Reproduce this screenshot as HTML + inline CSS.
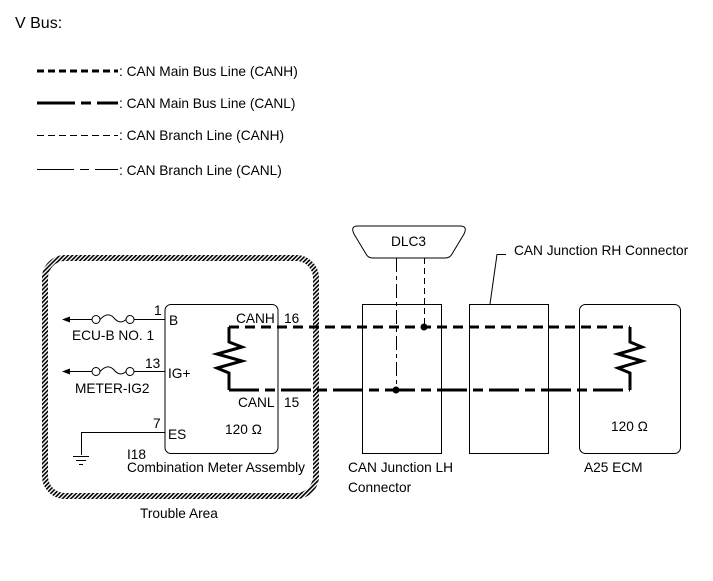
<!DOCTYPE html>
<html><head><meta charset="utf-8"><style>
html,body{margin:0;padding:0;background:#fff;}
svg{display:block;}
text{font-family:"Liberation Sans",Arial,sans-serif;font-size:13.7px;fill:#000;}
</style></head><body>
<svg width="713" height="581" viewBox="0 0 713 581" xmlns="http://www.w3.org/2000/svg">
<defs>
<pattern id="h" patternUnits="userSpaceOnUse" width="3" height="3" patternTransform="rotate(45)">
<rect width="3" height="3" fill="#fff"/><rect width="1.6" height="3" fill="#000"/>
</pattern>
</defs>
<text x="15" y="28" style="font-size:16px">V Bus:</text>
<!-- legend -->
<g stroke="#000" fill="none">
<line x1="37" y1="71" x2="118" y2="71" stroke-width="3" stroke-dasharray="7,4"/>
<g stroke-width="3">
<line x1="37" y1="103" x2="75" y2="103"/><line x1="81" y1="103" x2="91" y2="103"/><line x1="97" y1="103" x2="118" y2="103"/>
</g>
<line x1="37" y1="135.5" x2="118" y2="135.5" stroke-width="1" stroke-dasharray="7,4"/>
<g stroke-width="1">
<line x1="37" y1="169.5" x2="74" y2="169.5"/><line x1="80" y1="169.5" x2="89" y2="169.5"/><line x1="95" y1="169.5" x2="118" y2="169.5"/>
</g>
</g>
<text x="119" y="76">: CAN Main Bus Line (CANH)</text>
<text x="119" y="108">: CAN Main Bus Line (CANL)</text>
<text x="119" y="140">: CAN Branch Line (CANH)</text>
<text x="119" y="175">: CAN Branch Line (CANL)</text>

<!-- trouble area -->
<rect x="45" y="258" width="271" height="238" rx="20" fill="none" stroke="url(#h)" stroke-width="6"/>
<text x="140" y="518">Trouble Area</text>

<!-- combination meter -->
<rect x="165" y="304.5" width="113" height="149" rx="6" fill="none" stroke="#000" stroke-width="1"/>
<g stroke="#000" fill="none" stroke-width="1">
<line x1="68" y1="319.5" x2="92" y2="319.5"/><circle cx="96" cy="319.5" r="4"/>
<path d="M100 319.5 Q108 311 114 318 Q120 325 126 319.5"/>
<circle cx="130" cy="319.5" r="4"/><line x1="134" y1="319.5" x2="165" y2="319.5"/>
<line x1="68" y1="371.5" x2="92" y2="371.5"/><circle cx="96" cy="371.5" r="4"/>
<path d="M100 371.5 Q108 363 114 370 Q120 377 126 371.5"/>
<circle cx="130" cy="371.5" r="4"/><line x1="134" y1="371.5" x2="165" y2="371.5"/>
<polyline points="165,432.5 81.5,432.5 81.5,455"/>
<line x1="73" y1="456.5" x2="89" y2="456.5"/><line x1="76" y1="460.5" x2="86" y2="460.5"/><line x1="79" y1="464.5" x2="83" y2="464.5"/>
</g>
<polygon points="62,319.5 70,316.5 70,322.5" fill="#000"/>
<polygon points="62,371.5 70,368.5 70,374.5" fill="#000"/>
<text x="154" y="315">1</text><text x="169" y="325">B</text>
<text x="72" y="340">ECU-B NO. 1</text>
<text x="145" y="368">13</text><text x="168" y="378">IG+</text>
<text x="75" y="393">METER-IG2</text>
<text x="153" y="428">7</text><text x="168" y="439">ES</text>
<text x="127" y="459">I18</text>
<text x="127" y="472">Combination Meter Assembly</text>
<text x="236" y="323">CANH</text><text x="284" y="323">16</text>
<text x="238" y="407">CANL</text><text x="284" y="407">15</text>
<text x="225" y="434">120 Ω</text>

<!-- main bus -->
<g stroke="#000" fill="none" stroke-width="3">
<polyline points="229,327 229,342 242,347 217,354 242,361 217,368 229,373 229,390"/>
<line x1="229" y1="327" x2="630" y2="327" stroke-dasharray="10,6"/>
<line x1="229" y1="390" x2="630" y2="390" stroke-dasharray="30,6,10,6"/>
<polyline points="630,327 630,342 642,347 618,354 642,361 618,368 630,373 630,390"/>
</g>

<!-- DLC3 -->
<path d="M358 226 L460 226 Q468 226 464 234 L452 254 Q450 258 445 258 L373 258 Q368 258 366 254 L354 234 Q350 226 358 226 Z" fill="#fff" stroke="#000"/>
<text x="391" y="246">DLC3</text>
<g stroke="#000" stroke-width="1" fill="none">
<line x1="396.5" y1="258" x2="396.5" y2="390" stroke-dasharray="14,4,4,4"/>
<line x1="424.5" y1="258" x2="424.5" y2="327" stroke-dasharray="6,4"/>
<rect x="362.5" y="304.5" width="79" height="149"/>
<rect x="469.5" y="304.5" width="79" height="149"/>
<rect x="579.5" y="304.5" width="101" height="149" rx="6"/>
<polyline points="490,304 497,254.5 506,254.5"/>
</g>
<circle cx="424" cy="327" r="3.5" fill="#000"/>
<circle cx="396" cy="390" r="3.5" fill="#000"/>
<text x="514" y="255">CAN Junction RH Connector</text>
<text x="348" y="472">CAN Junction LH</text>
<text x="348" y="492">Connector</text>
<text x="584" y="472">A25 ECM</text>
<text x="611" y="431">120 Ω</text>
</svg>
</body></html>
